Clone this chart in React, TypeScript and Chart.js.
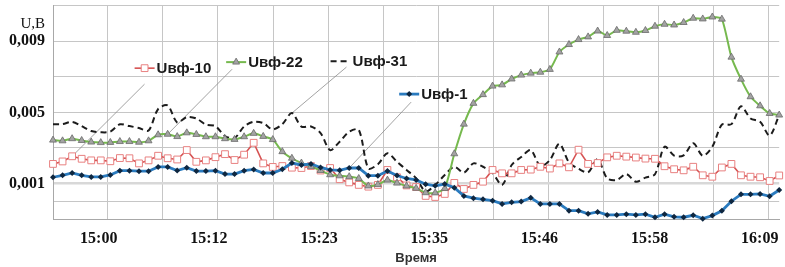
import React, { useEffect, useRef } from 'react';
import { Chart, registerables } from 'chart.js';

Chart.register(...registerables);

// Series values (V), one sample per minute
const uvf10 = [
  0.00210, 0.00224, 0.00253, 0.00239, 0.00230, 0.00230, 0.00225, 0.00243, 0.00242, 0.00213,
  0.00230, 0.00256, 0.00242, 0.00235, 0.00288, 0.00222, 0.00230, 0.00248, 0.00265, 0.00232,
  0.00262, 0.00329, 0.00213, 0.00193, 0.00198, 0.00189, 0.00187, 0.00198, 0.00173, 0.00187,
  0.00124, 0.00106, 0.00092, 0.00082, 0.00092, 0.00176, 0.00135, 0.00089, 0.00080, 0.00030,
  0.00024, 0.00041, 0.00103, 0.00069, 0.00092, 0.00110, 0.00176, 0.00157, 0.00157, 0.00176,
  0.00178, 0.00194, 0.00184, 0.00213, 0.00191, 0.00290, 0.00210, 0.00215, 0.00247, 0.00256,
  0.00251, 0.00246, 0.00240, 0.00239, 0.00197, 0.00180, 0.00174, 0.00194, 0.00146, 0.00138,
  0.00190, 0.00210, 0.00146, 0.00138, 0.00135, 0.00114, 0.00145,
];

const uvf22 = [
  0.00344, 0.00340, 0.00352, 0.00342, 0.00333, 0.00330, 0.00331, 0.00336, 0.00336, 0.00332,
  0.00340, 0.00374, 0.00377, 0.00364, 0.00385, 0.00376, 0.00363, 0.00363, 0.00352, 0.00348,
  0.00363, 0.00382, 0.00365, 0.00347, 0.00279, 0.00242, 0.00215, 0.00196, 0.00173, 0.00149,
  0.00143, 0.00138, 0.00128, 0.00086, 0.00094, 0.00119, 0.00102, 0.00086, 0.00073, 0.00048,
  0.00047, 0.00072, 0.00267, 0.00434, 0.00551, 0.00600, 0.00648, 0.00655, 0.00688, 0.00710,
  0.00721, 0.00726, 0.00742, 0.00840, 0.00882, 0.00910, 0.00925, 0.00958, 0.00933, 0.00962,
  0.00957, 0.00951, 0.00961, 0.00985, 0.00996, 0.00992, 0.01006, 0.01030, 0.01026, 0.01037,
  0.01025, 0.00811, 0.00687, 0.00588, 0.00537, 0.00494, 0.00485,
];

const uvf31 = [
  0.00434, 0.00434, 0.00447, 0.00423, 0.00395, 0.00388, 0.00392, 0.00433, 0.00423, 0.00412,
  0.00398, 0.00519, 0.00539, 0.00443, 0.00474, 0.00466, 0.00431, 0.00423, 0.00367, 0.00356,
  0.00421, 0.00447, 0.00440, 0.00404, 0.00434, 0.00496, 0.00420, 0.00421, 0.00384, 0.00288,
  0.00335, 0.00391, 0.00402, 0.00185, 0.00208, 0.00270, 0.00222, 0.00176, 0.00129, 0.00055,
  0.00092, 0.00148, 0.00194, 0.00161, 0.00213, 0.00194, 0.00159, 0.00092, 0.00204, 0.00249,
  0.00288, 0.00198, 0.00232, 0.00324, 0.00218, 0.00183, 0.00163, 0.00236, 0.00129, 0.00120,
  0.00153, 0.00110, 0.00133, 0.00152, 0.00307, 0.00257, 0.00258, 0.00326, 0.00256, 0.00307,
  0.00431, 0.00434, 0.00535, 0.00466, 0.00447, 0.00370, 0.00485,
];

const uvf1 = [
  0.00135, 0.00146, 0.00159, 0.00146, 0.00137, 0.00137, 0.00148, 0.00172, 0.00172, 0.00169,
  0.00169, 0.00193, 0.00193, 0.00173, 0.00189, 0.00170, 0.00170, 0.00172, 0.00153, 0.00153,
  0.00172, 0.00179, 0.00159, 0.00159, 0.00180, 0.00215, 0.00204, 0.00210, 0.00190, 0.00176,
  0.00174, 0.00187, 0.00187, 0.00144, 0.00144, 0.00170, 0.00145, 0.00128, 0.00120, 0.00096,
  0.00087, 0.00097, 0.00076, 0.00030, 0.00017, 0.00011, 0.00003, -0.00015, -0.00006, -0.00002,
  0.00019, -0.00015, -0.00015, -0.00015, -0.00053, -0.00053, -0.00071, -0.00060, -0.00077, -0.00077,
  -0.00073, -0.00077, -0.00073, -0.00090, -0.00073, -0.00088, -0.00090, -0.00079, -0.00098, -0.00081,
  -0.00054, 0.00000, 0.00039, 0.00039, 0.00041, 0.00028, 0.00063,
];

// Axis ticks
const timeLabels = ['15:00', '15:12', '15:23', '15:35', '15:46', '15:58', '16:09'];
const xTickStart = 5.73; // minutes from first sample
const xTickStep = 5.765;
const xTickCount = 13;
const yTickValues = [-0.001, 0, 0.001, 0.003, 0.005, 0.007, 0.009, 0.010, 0.011];
const yTickLabels = ['', '', '0,001', '', '0,005', '', '0,009', 'U,B', ''];
const yMin = -0.001;
const yMax = 0.011;

// In-chart labels with leader lines (positions in data units)
const notes = [
  { text: 'Uвф-10', ds: 0, at: [8.54, 0.00749], from: [9.58, 0.00659], target: 2 },
  { text: 'Uвф-22', ds: 1, at: [18.12, 0.00783], from: [18.74, 0.00743], target: 12 },
  { text: 'Uвф-31', ds: 2, at: [29.05, 0.00788], from: [30.71, 0.00755], target: 25 },
  { text: 'Uвф-1', ds: 3, at: [36.23, 0.00603], from: [37.48, 0.00558], target: 31 },
];

function drawMarker(ctx: CanvasRenderingContext2D, style: string, cx: number, cy: number, r: number, fill: string, stroke: string, bw: number) {
  if (!r) return;
  ctx.beginPath();
  if (style === 'rect') {
    const s = Math.SQRT1_2 * r;
    ctx.rect(cx - s, cy - s, 2 * s, 2 * s);
  } else if (style === 'triangle') {
    let a = 0;
    ctx.moveTo(cx + Math.sin(a) * r, cy - Math.cos(a) * r);
    a += (2 * Math.PI) / 3;
    ctx.lineTo(cx + Math.sin(a) * r, cy - Math.cos(a) * r);
    a += (2 * Math.PI) / 3;
    ctx.lineTo(cx + Math.sin(a) * r, cy - Math.cos(a) * r);
    ctx.closePath();
  } else if (style === 'rectRot') {
    ctx.moveTo(cx - r, cy);
    ctx.lineTo(cx, cy - r);
    ctx.lineTo(cx + r, cy);
    ctx.lineTo(cx, cy + r);
    ctx.closePath();
  }
  ctx.fillStyle = fill;
  ctx.fill();
  if (bw) {
    ctx.lineWidth = bw;
    ctx.strokeStyle = stroke;
    ctx.stroke();
  }
}

const notesPlugin = {
  id: 'notes',
  beforeDatasetsDraw(chart: any) {
    const { ctx, scales } = chart;
    ctx.save();
    for (const n of notes) {
      const el = chart.getDatasetMeta(n.ds).data[n.target];
      const fx = scales.x.getPixelForValue(n.from[0]);
      const fy = scales.y.getPixelForValue(n.from[1]);
      ctx.strokeStyle = '#8c8c8c';
      ctx.lineWidth = 0.8;
      ctx.setLineDash([]);
      ctx.beginPath();
      ctx.moveTo(fx, fy);
      ctx.lineTo(el.x, el.y);
      ctx.stroke();
    }
    ctx.restore();
  },
  afterDatasetsDraw(chart: any) {
    const { ctx, scales } = chart;
    ctx.save();
    for (const n of notes) {
      const ds = chart.data.datasets[n.ds];
      const sx = scales.x.getPixelForValue(n.at[0]);
      const sy = scales.y.getPixelForValue(n.at[1]);
      ctx.strokeStyle = ds.borderColor;
      ctx.lineWidth = ds.borderWidth;
      ctx.setLineDash(ds.borderDash || []);
      ctx.beginPath();
      ctx.moveTo(sx, sy);
      ctx.lineTo(sx + 20, sy);
      ctx.stroke();
      ctx.setLineDash([]);
      drawMarker(ctx, ds.pointStyle, sx + 10, sy, ds.pointRadius, ds.pointBackgroundColor, ds.pointBorderColor, ds.pointBorderWidth);
      ctx.font = 'bold 15px "Liberation Sans", Arial, sans-serif';
      ctx.fillStyle = '#1a1a1a';
      ctx.textBaseline = 'middle';
      ctx.textAlign = 'left';
      ctx.fillText(n.text, sx + 22, sy + 1);
    }
    ctx.restore();
  },
};

export default function App() {
  const ref = useRef<HTMLCanvasElement>(null);

  useEffect(() => {
    document.body.style.margin = '0';
    const pts = (arr: number[]) => arr.map((v, i) => ({ x: i, y: v }));
    const n = uvf1.length;
    const chart = new Chart(ref.current as HTMLCanvasElement, {
      type: 'line',
      data: {
        datasets: [
          {
            label: 'Uвф-10',
            data: pts(uvf10),
            borderColor: '#d65252',
            borderWidth: 1.6,
            pointStyle: 'rect',
            pointRadius: 4.8,
            pointBackgroundColor: '#ffffff',
            pointBorderColor: '#e88080',
            pointBorderWidth: 1,
            tension: 0,
            order: 3,
            clip: 8,
          } as any,
          {
            label: 'Uвф-22',
            data: pts(uvf22),
            borderColor: '#76b94e',
            borderWidth: 2,
            pointStyle: 'triangle',
            pointRadius: 4,
            pointBackgroundColor: '#a3a3a3',
            pointBorderColor: '#6a6a6a',
            pointBorderWidth: 0.8,
            tension: 0.2,
            order: 2,
            clip: 8,
          },
          {
            label: 'Uвф-31',
            data: pts(uvf31),
            borderColor: '#1c1c1c',
            borderWidth: 2,
            borderDash: [6, 4],
            pointStyle: 'circle',
            pointRadius: 0,
            pointBackgroundColor: '#1c1c1c',
            pointBorderColor: '#1c1c1c',
            pointBorderWidth: 0,
            tension: 0.3,
            order: 4,
            clip: 8,
          },
          {
            label: 'Uвф-1',
            data: pts(uvf1),
            borderColor: '#2a7bbf',
            borderWidth: 2.8,
            pointStyle: 'rectRot',
            pointRadius: 3,
            pointBackgroundColor: '#0f2740',
            pointBorderColor: '#0f2740',
            pointBorderWidth: 0,
            tension: 0,
            order: 1,
            clip: 8,
          },
        ],
      },
      options: {
        animation: false,
        responsive: false,
        maintainAspectRatio: false,
        layout: { padding: { top: 5, right: 2, left: 0, bottom: 0 } },
        plugins: { legend: { display: false }, tooltip: { enabled: false } },
        scales: {
          x: {
            type: 'linear',
            min: 0,
            max: n - 1,
            afterBuildTicks: (s: any) => {
              const t = [];
              for (let k = 0; k < xTickCount; k++) t.push({ value: xTickStart + k * xTickStep });
              s.ticks = t;
            },
            afterFit: (s: any) => {
              s.height = 48;
              s.paddingLeft = 0;
              s.paddingRight = 0;
            },
            ticks: {
              autoSkip: false,
              maxRotation: 0,
              labelOffset: -9,
              padding: 10,
              color: '#111',
              font: { family: '"Liberation Serif", "Times New Roman", serif', size: 16, weight: 'bold' },
              callback: (_v: any, i: number) => (i % 2 === 0 ? timeLabels[i / 2] : ''),
            },
            grid: { color: '#c6c6c6', lineWidth: 1, drawTicks: false },
            border: { display: true, color: '#a8a8a8', width: 1 },
            title: {
              display: true,
              text: 'Время',
              color: '#333',
              font: { family: '"Liberation Sans", Arial, sans-serif', size: 13, weight: 'bold' },
              padding: { top: 0, bottom: 1 },
            },
          },
          y: {
            type: 'linear',
            min: yMin,
            max: yMax,
            afterBuildTicks: (s: any) => {
              s.ticks = yTickValues.map((v) => ({ value: v }));
            },
            afterFit: (s: any) => {
              s.width = 53;
              s.paddingTop = 0;
              s.paddingBottom = 0;
            },
            ticks: {
              autoSkip: false,
              padding: 8,
              color: '#111',
              font: (c: any) =>
                c.index === 7
                  ? { family: '"Liberation Serif", "Times New Roman", serif', size: 15, weight: 'normal' }
                  : { family: '"Liberation Serif", "Times New Roman", serif', size: 16, weight: 'bold' },
              callback: (_v: any, i: number) => yTickLabels[i],
            },
            grid: {
              drawTicks: false,
              color: (c: any) => (c.index === 7 ? 'rgba(0,0,0,0)' : c.index === 2 ? '#d8d8d8' : '#c6c6c6'),
              lineWidth: (c: any) => (c.index === 2 ? 2.5 : 1),
            },
            border: { display: true, color: '#a8a8a8', width: 1 },
          },
        },
      },
      plugins: [notesPlugin],
    });
    return () => chart.destroy();
  }, []);

  return (
    <div style={{ width: 785, height: 267 }}>
      <canvas ref={ref} width={785} height={267} style={{ display: 'block' }} />
    </div>
  );
}
